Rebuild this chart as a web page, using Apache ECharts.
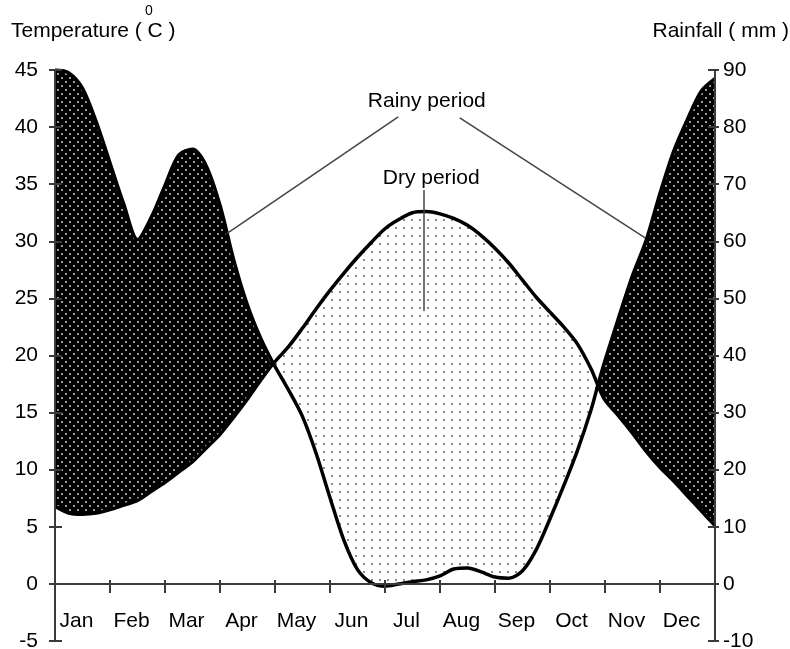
<!DOCTYPE html>
<html>
<head>
<meta charset="utf-8">
<script src="https://cdn.jsdelivr.net/npm/echarts@6/dist/echarts.min.js"></script>
<style>
  html, body { margin: 0; padding: 0; background: #fff; }
  #chart { width: 790px; height: 649px; }
</style>
</head>
<body>
<div id="chart"></div>
<script>
// month labels (one per band, placed at band centres)
const months = ["Jan", "Feb", "Mar", "Apr", "May", "Jun", "Jul", "Aug", "Sep", "Oct", "Nov", "Dec"];
const monthCentres = [0.5, 1.5, 2.5, 3.5, 4.5, 5.5, 6.5, 7.5, 8.5, 9.5, 10.5, 11.5];
const monthEdges = [1, 2, 3, 4, 5, 6, 7, 8, 9, 10, 11, 12];

// sample positions along the year (0 = start of Jan, 12 = end of Dec)
const monthPos = [0, 0.25, 0.5, 0.75, 1, 1.25, 1.5, 1.75, 2, 2.25, 2.5, 2.75, 3, 3.25, 3.5, 3.75, 3.97,
  4.25, 4.5, 4.75, 5, 5.25, 5.5, 5.75, 6, 6.25, 6.5, 6.75, 7, 7.25, 7.5, 7.75, 8, 8.25, 8.5, 8.75,
  9, 9.25, 9.5, 9.75, 9.87, 10, 10.25, 10.5, 10.75, 11, 11.25, 11.5, 11.75, 12];

// temperature (°C), left axis
const temperature = [6.8, 6.2, 6.1, 6.2, 6.5, 6.9, 7.3, 8.1, 8.9, 9.8, 10.7, 11.9, 13.1, 14.6, 16.2, 17.9, 19.3,
  20.8, 22.4, 24.1, 25.7, 27.2, 28.6, 29.9, 31.1, 31.9, 32.5, 32.6, 32.4, 32.0, 31.4, 30.5, 29.4, 28.1, 26.6, 25.1,
  23.8, 22.5, 21.0, 18.8, 17.4, 16.1, 14.7, 13.2, 11.6, 10.2, 9.0, 7.7, 6.4, 5.1];

// rainfall (mm), right axis
const rainfall = [90, 89.5, 86.8, 80.9, 73.7, 66.5, 60.3, 64.2, 69.8, 75.1, 76.1, 73.2, 66.3, 56.7, 48.8, 42.8, 38.6,
  33.9, 29.3, 22.8, 15.1, 7.7, 2.5, 0.2, -0.4, 0, 0.4, 0.7, 1.4, 2.6, 2.8, 2.1, 1.2, 1.0, 2.3, 6.0,
  11.4, 17.2, 23.4, 30.6, 34.8, 39.1, 46.7, 54.0, 60.2, 68.4, 75.8, 81.4, 86.3, 88.5];

const tempTicks = { min: -5, max: 45, interval: 5 };
const rainTicks = { min: -10, max: 90, interval: 10 };

// rainfall scale is twice the temperature scale
const RAIN_RATIO = rainTicks.max / tempTicks.max;

const FONT = '"Liberation Sans", Arial, sans-serif';
const FONT_SIZE = 21;
const AXIS_COLOR = "#3a3a3a";
const SMOOTH = 0.3;

// dotted fills
function makePattern(bg, dotColor, dots) {
  const c = document.createElement("canvas");
  c.width = 8;
  c.height = 8;
  const ctx = c.getContext("2d");
  ctx.fillStyle = bg;
  ctx.fillRect(0, 0, 8, 8);
  ctx.fillStyle = dotColor;
  dots.forEach(([x, y]) => ctx.fillRect(x, y, 2, 2));
  return c;
}
const darkPattern = makePattern("#000", "#9a9a9a", [[1, 1], [5, 5]]);
const lightPattern = makePattern("#fff", "#8a8a8a", [[3, 3]]);

const tempPts = monthPos.map((m, i) => [m, temperature[i]]);
const rainPts = monthPos.map((m, i) => [m, rainfall[i]]);
const upperPts = monthPos.map((m, i) => [m, Math.max(temperature[i], rainfall[i] / RAIN_RATIO)]);
const lowerPts = monthPos.map((m, i) => [m, Math.min(temperature[i], rainfall[i] / RAIN_RATIO)]);

const chart = echarts.init(document.getElementById("chart"));

const areaSeries = (name, data, color) => ({
  name,
  type: "line",
  data,
  xAxisIndex: 0,
  yAxisIndex: 0,
  smooth: SMOOTH,
  showSymbol: false,
  lineStyle: { width: 0, opacity: 0 },
  areaStyle: { color, opacity: 1 },
  silent: true,
});

const option = {
  animation: false,
  backgroundColor: "#fff",
  textStyle: { fontFamily: FONT },
  grid: { left: 55, right: 75, top: 70, bottom: 8, containLabel: false, outerBoundsMode: "none" },
  graphic: [
    { type: "text", left: 11, top: 21, style: { text: "Temperature ( C )", font: FONT_SIZE + "px " + FONT, fill: "#000" } },
    { type: "text", left: 145, top: 4, style: { text: "0", font: "14px " + FONT, fill: "#000" } },
    { type: "text", right: 1, top: 21, style: { text: "Rainfall ( mm )", font: FONT_SIZE + "px " + FONT, fill: "#000" } },
  ],
  xAxis: [
    {
      // zero line with outward ticks
      type: "value",
      position: "bottom",
      min: 0,
      max: 12,
      z: 5,
      axisLine: { onZero: true, onZeroAxisIndex: 0, lineStyle: { color: AXIS_COLOR, width: 2 } },
      axisTick: { show: true, length: 9, customValues: monthEdges, lineStyle: { color: AXIS_COLOR, width: 2 } },
      axisLabel: { show: false },
      splitLine: { show: false },
    },
    {
      // inward ticks on the zero line
      type: "value",
      position: "bottom",
      min: 0,
      max: 12,
      z: 5,
      axisLine: { show: false, onZero: true, onZeroAxisIndex: 2 },
      axisTick: { show: true, inside: true, length: 4, customValues: monthEdges, lineStyle: { color: AXIS_COLOR, width: 2 } },
      axisLabel: { show: false },
      splitLine: { show: false },
    },
    {
      // month names, carried by an axis at the grid bottom
      type: "value",
      position: "bottom",
      min: 0,
      max: 12,
      z: 5,
      axisLine: { show: false, onZero: false },
      axisTick: { show: false },
      axisLabel: {
        show: true,
        customValues: monthCentres,
        formatter: (v) => months[Math.floor(v)] || "",
        margin: -30,
        padding: [0, 12, 0, 0],
        fontSize: FONT_SIZE,
        color: "#000",
        fontFamily: FONT,
      },
      splitLine: { show: false },
    },
  ],
  yAxis: [
    {
      type: "value",
      position: "left",
      ...tempTicks,
      z: 5,
      axisLine: { show: true, onZero: false, lineStyle: { color: AXIS_COLOR, width: 2 } },
      axisTick: { show: true, length: 6, lineStyle: { color: AXIS_COLOR, width: 2 } },
      axisLabel: { margin: 17, fontSize: FONT_SIZE, color: "#000", fontFamily: FONT },
      splitLine: { show: false },
    },
    {
      type: "value",
      position: "right",
      ...rainTicks,
      z: 5,
      axisLine: { show: true, onZero: false, lineStyle: { color: AXIS_COLOR, width: 2 } },
      axisTick: { show: true, length: 4, lineStyle: { color: AXIS_COLOR, width: 2 } },
      axisLabel: { margin: 8, fontSize: FONT_SIZE, color: "#000", fontFamily: FONT },
      splitLine: { show: false },
    },
    {
      type: "value",
      position: "left",
      ...tempTicks,
      z: 5,
      axisLine: { show: false, onZero: false },
      axisTick: { show: true, inside: true, length: 7, lineStyle: { color: AXIS_COLOR, width: 2 } },
      axisLabel: { show: false },
      splitLine: { show: false },
    },
    {
      type: "value",
      position: "right",
      ...rainTicks,
      z: 5,
      axisLine: { show: false, onZero: false },
      axisTick: { show: true, inside: true, length: 7, lineStyle: { color: AXIS_COLOR, width: 2 } },
      axisLabel: { show: false },
      splitLine: { show: false },
    },
  ],
  series: [
    // painter's order: dark under the upper curve, light under temperature, white under the lower curve
    areaSeries("upper", upperPts, { image: darkPattern, repeat: "repeat" }),
    areaSeries("dry", tempPts, { image: lightPattern, repeat: "repeat" }),
    areaSeries("lower", lowerPts, "#fff"),
    {
      name: "Rainfall",
      type: "line",
      data: rainPts,
      xAxisIndex: 0,
      yAxisIndex: 1,
      smooth: SMOOTH,
      showSymbol: false,
      lineStyle: { color: "#000", width: 3.5 },
      silent: true,
    },
    {
      name: "Temperature",
      type: "line",
      data: tempPts,
      xAxisIndex: 0,
      yAxisIndex: 0,
      smooth: SMOOTH,
      showSymbol: false,
      lineStyle: { color: "#000", width: 3.5 },
      silent: true,
      markLine: {
        silent: true,
        symbol: ["none", "none"],
        label: { show: false },
        lineStyle: { color: "#444", width: 1.5, type: "solid" },
        data: [
          [{ coord: [6.24, 40.9] }, { coord: [3.13, 30.7] }],
          [{ coord: [7.36, 40.8] }, { coord: [10.73, 30.3] }],
          [{ coord: [6.71, 34.5] }, { coord: [6.71, 23.9] }],
        ],
      },
      markPoint: {
        silent: true,
        symbol: "rect",
        symbolSize: [1, 1],
        itemStyle: { color: "rgba(0,0,0,0)" },
        label: { show: true, position: "inside", formatter: "{b}", fontSize: FONT_SIZE, color: "#000", fontFamily: FONT },
        data: [
          { name: "Rainy period", coord: [6.76, 42.3] },
          { name: "Dry period", coord: [6.84, 35.5] },
        ],
      },
    },
  ],
};

chart.setOption(option);
</script>
</body>
</html>
